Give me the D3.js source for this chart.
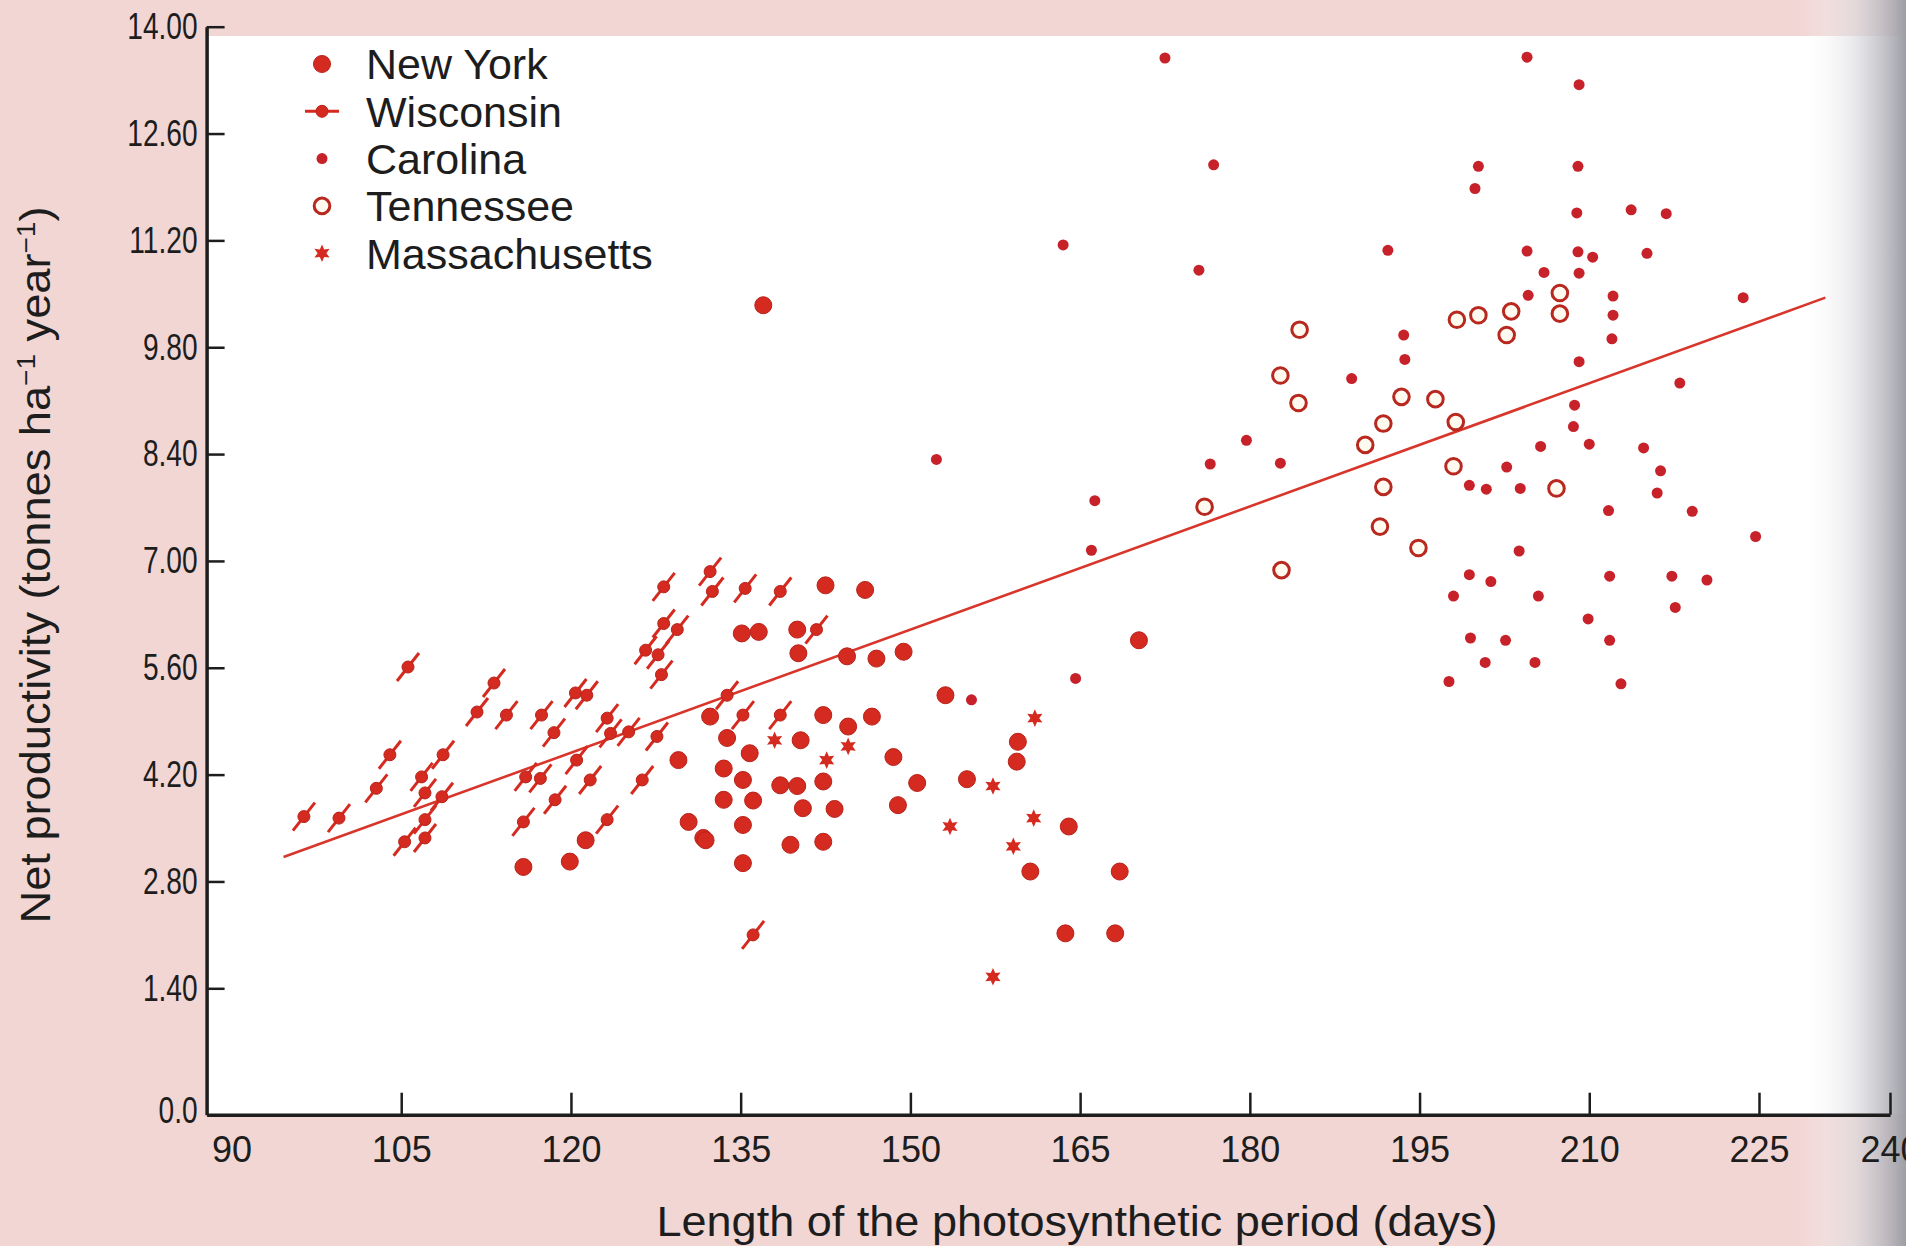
<!DOCTYPE html>
<html>
<head>
<meta charset="utf-8">
<script src="https://cdn.jsdelivr.net/npm/d3@7"></script>
<style>
  body { margin: 0; background: #f1d6d4; }
  text { font-family: "Liberation Sans", Arial, Helvetica, sans-serif; fill: #1d1d1d; }
</style>
</head>
<body>
<svg id="chart" width="1906" height="1246"></svg>
<script>
// [days, net productivity t/ha/yr]
var newYork = [[129.5,4.39],[121.3,3.34],[115.8,2.99],[119.9,3.06],[130.4,3.58],[131.7,3.37],[132.3,4.96],
  [142.5,6.68],[146.0,6.62],[135.1,6.05],[136.6,6.07],[140.0,6.10],[140.1,5.79],[144.4,5.75],[147.0,5.72],
  [149.4,5.81],[170.2,5.96],[133.8,4.68],[135.8,4.48],[140.3,4.65],[142.3,4.98],[144.5,4.83],[146.6,4.96],
  [133.5,4.28],[135.2,4.13],[138.5,4.06],[140.0,4.05],[142.3,4.11],[133.5,3.87],[136.1,3.86],[140.5,3.76],
  [143.3,3.75],[135.2,3.54],[131.9,3.34],[139.4,3.28],[142.3,3.32],[135.2,3.04],[148.5,4.43],[150.6,4.09],
  [148.9,3.80],[153.1,5.24],[155.0,4.14],[159.5,4.63],[159.4,4.37],[164.0,3.52],[160.6,2.93],[168.5,2.93],
  [163.7,2.12],[168.1,2.12],[137.0,10.35]];

var wisconsin = [[96.4,3.65],[99.5,3.63],[102.8,4.02],[104.0,4.46],[105.6,5.61],[106.8,4.17],[107.1,3.96],
  [108.6,3.91],[108.7,4.46],[107.1,3.61],[105.3,3.32],[107.1,3.37],[111.7,5.02],[113.2,5.40],[114.3,4.98],
  [117.4,4.98],[120.4,5.27],[121.4,5.24],[116.0,4.17],[117.3,4.15],[115.8,3.58],[118.6,3.87],[120.5,4.39],
  [121.7,4.13],[123.2,3.61],[123.2,4.94],[123.5,4.74],[125.1,4.76],[127.6,4.70],[126.3,4.13],[128.2,6.66],
  [128.2,6.18],[129.4,6.10],[126.6,5.83],[127.7,5.77],[128.0,5.51],[132.3,6.86],[132.5,6.60],[135.4,6.64],
  [138.5,6.60],[141.7,6.10],[133.8,5.24],[135.2,4.98],[138.5,4.98],[136.1,2.10],[118.5,4.75]];

var carolina = [[155.4,5.18],[164.6,5.46],[166.0,7.14],[166.3,7.79],[152.3,8.33],[163.5,11.14],[172.5,13.59],
  [176.8,12.19],[175.5,10.81],[192.2,11.07],[193.6,9.96],[193.7,9.64],[189.0,9.39],[179.7,8.58],[176.5,8.27],
  [182.7,8.28],[204.5,13.60],[209.1,13.24],[200.2,12.17],[199.9,11.88],[209.0,12.17],[208.9,11.56],[213.7,11.60],
  [216.8,11.55],[204.5,11.06],[209.0,11.05],[210.3,10.98],[215.1,11.03],[206.0,10.78],[209.1,10.77],[204.6,10.48],
  [212.1,10.47],[212.1,10.22],[212.0,9.91],[209.1,9.61],[223.6,10.45],[218.0,9.33],[208.7,9.04],[208.6,8.76],
  [205.7,8.50],[210.0,8.53],[214.8,8.48],[216.3,8.18],[216.0,7.89],[202.7,8.23],[199.4,7.99],[200.9,7.94],
  [203.9,7.95],[211.7,7.66],[219.1,7.65],[224.7,7.32],[203.8,7.13],[199.4,6.82],[201.3,6.73],[198.0,6.54],
  [205.5,6.54],[211.8,6.80],[217.3,6.80],[220.4,6.75],[217.6,6.39],[209.9,6.24],[199.5,5.99],[202.6,5.96],
  [211.8,5.96],[200.8,5.67],[205.2,5.67],[197.6,5.42],[212.8,5.39]];

var tennessee = [[182.7,9.43],[184.4,10.03],[184.3,9.07],[182.8,6.88],[176.0,7.71],[190.2,8.52],[191.8,8.80],
  [193.4,9.15],[191.8,7.97],[191.5,7.45],[194.9,7.17],[196.4,9.12],[198.2,8.82],[198.0,8.24],[198.3,10.16],
  [200.2,10.22],[202.7,9.96],[203.1,10.27],[207.4,10.51],[207.4,10.24],[207.1,7.95]];

var massachusetts = [[138.0,4.65],[144.5,4.57],[142.6,4.39],[161.0,4.94],[157.3,4.05],[160.9,3.63],
  [153.5,3.52],[159.1,3.26],[157.3,1.55]];

var fitLine = [[94.6,3.12],[232.6,10.45]];

var xTicks = [90,105,120,135,150,165,180,195,210,225,240];
var yTicks = [0,1.4,2.8,4.2,5.6,7.0,8.4,9.8,11.2,12.6,14.0];
var yTickLabels = ["0.0","1.40","2.80","4.20","5.60","7.00","8.40","9.80","11.20","12.60","14.00"];
var legendNames = ["New York","Wisconsin","Carolina","Tennessee","Massachusetts"];

var RED = "#d52a1f";

var svg = d3.select("#chart");

// page: pink scan background, white plot paper, grey gutter on the right
var defs = svg.append("defs");
var grad = defs.append("linearGradient").attr("id","gutter").attr("x1","0").attr("x2","1").attr("y1","0").attr("y2","0");
grad.append("stop").attr("offset","0").attr("stop-color","#ffffff").attr("stop-opacity",0);
grad.append("stop").attr("offset","0.5").attr("stop-color","#dcdce0").attr("stop-opacity",0.6);
grad.append("stop").attr("offset","1").attr("stop-color","#9d9da5").attr("stop-opacity",1);

svg.append("rect").attr("width",1906).attr("height",1246).attr("fill","#f1d6d4");
svg.append("rect").attr("x",208).attr("y",36).attr("width",1698).attr("height",1078).attr("fill","#ffffff");
svg.append("rect").attr("x",1800).attr("y",0).attr("width",106).attr("height",1246).attr("fill","url(#gutter)");

// scales (piecewise to follow the scanned page)
var x = d3.scaleLinear().domain([87.8,225,240]).range([206.6,1759,1890]);
var y = d3.scaleLinear().domain([0,1.4,14]).range([1114.7,988.3,26.7]);

// axes
var yAxis = svg.append("g").attr("transform","translate(206.6,0)")
  .call(d3.axisLeft(y).tickValues(yTicks).tickSize(-18).tickSizeOuter(0).tickPadding(9)
    .tickFormat(function(d,i){ return yTickLabels[i]; }));
var xAxis = svg.append("g").attr("transform","translate(0,1114.7)")
  .call(d3.axisBottom(x).tickValues(xTicks).tickSize(-22).tickSizeOuter(0).tickPadding(22));

[yAxis, xAxis].forEach(function(g){
  g.select(".domain").attr("stroke","#1d1d1d").attr("stroke-width",3.5);
  g.selectAll(".tick line").attr("stroke","#1d1d1d").attr("stroke-width",2.5);
  g.selectAll(".tick text").attr("fill","#1d1d1d").attr("font-family","'Liberation Sans', Arial, sans-serif");
});
xAxis.selectAll(".tick text").attr("font-size",36);
// y labels in the print are set condensed
yAxis.selectAll(".tick text").attr("font-size",37)
  .each(function(){
    var w = this.getComputedTextLength();
    d3.select(this).attr("textLength", w * 0.76).attr("lengthAdjust","spacingAndGlyphs");
  });
yAxis.selectAll(".tick").filter(function(d){ return d === 0; }).select("line").remove();
xAxis.selectAll(".tick").filter(function(d){ return d === 90; }).select("line").remove();
yAxis.selectAll(".tick").filter(function(d){ return d === 0; }).select("text").attr("dy","0.2em");

// axis titles
svg.append("text").attr("x",1077).attr("y",1236).attr("text-anchor","middle")
  .attr("font-size",42).attr("textLength",841).attr("lengthAdjust","spacingAndGlyphs")
  .text("Length of the photosynthetic period (days)");

var yt = svg.append("text").attr("transform","translate(50,565) rotate(-90)")
  .attr("text-anchor","middle").attr("font-size",42)
  .attr("textLength",717).attr("lengthAdjust","spacingAndGlyphs");
yt.append("tspan").text("Net productivity (tonnes ha");
yt.append("tspan").attr("baseline-shift","super").attr("font-size",26).text("\u22121");
yt.append("tspan").text(" year");
yt.append("tspan").attr("baseline-shift","super").attr("font-size",26).text("\u22121");
yt.append("tspan").text(")");

// regression line
svg.append("path").datum(fitLine)
  .attr("d", d3.line().x(function(d){ return x(d[0]); }).y(function(d){ return y(d[1]); }))
  .attr("fill","none").attr("stroke","#d8352b").attr("stroke-width",2.6);

// six-pointed star symbol
var star6 = {
  draw: function(ctx, size){
    var ro = Math.sqrt(size) * 0.62, ri = ro * 0.5;
    for (var k = 0; k < 12; k++){
      var a = -Math.PI/2 + k * Math.PI/6, r = (k % 2) ? ri : ro;
      if (k === 0) ctx.moveTo(r*Math.cos(a), r*Math.sin(a)); else ctx.lineTo(r*Math.cos(a), r*Math.sin(a));
    }
    ctx.closePath();
  }
};

// marker painters
function drawNY(g){ g.append("circle").attr("r",8.5).attr("fill",RED).attr("stroke","#b8221a").attr("stroke-width",1); }
function drawWI(g, flat){
  if (flat) g.append("line").attr("x1",-17).attr("x2",17).attr("y1",0).attr("y2",0);
  else g.append("line").attr("x1",-11).attr("y1",14).attr("x2",11).attr("y2",-14);
  g.select("line").attr("stroke",RED).attr("stroke-width",3);
  g.append("circle").attr("r",6).attr("fill",RED).attr("stroke","#b8221a").attr("stroke-width",1);
}
function drawCA(g){ g.append("circle").attr("r",5.5).attr("fill","#c7222a"); }
function drawTN(g){ g.append("circle").attr("r",7.8).attr("fill","#fffaf0").attr("stroke","#b9281f").attr("stroke-width",3); }
function drawMA(g){ g.append("path").attr("d", d3.symbol().type(star6).size(200)()).attr("fill",RED); }

var painters = [drawNY, drawWI, drawCA, drawTN, drawMA];
var seriesData = [newYork, wisconsin, carolina, tennessee, massachusetts];

seriesData.forEach(function(data, s){
  svg.append("g").selectAll("g").data(data).join("g")
    .attr("transform", function(d){ return "translate(" + x(d[0]) + "," + y(d[1]) + ")"; })
    .each(function(){ painters[s](d3.select(this), false); });
});

// legend
var legend = svg.append("g");
legendNames.forEach(function(name, i){
  var row = legend.append("g").attr("transform","translate(322," + (64 + i*47.3) + ")");
  painters[i](row.append("g"), true);
  row.append("text").attr("x",44).attr("dy","0.36em").attr("font-size",43).text(name);
});
</script>
</body>
</html>
